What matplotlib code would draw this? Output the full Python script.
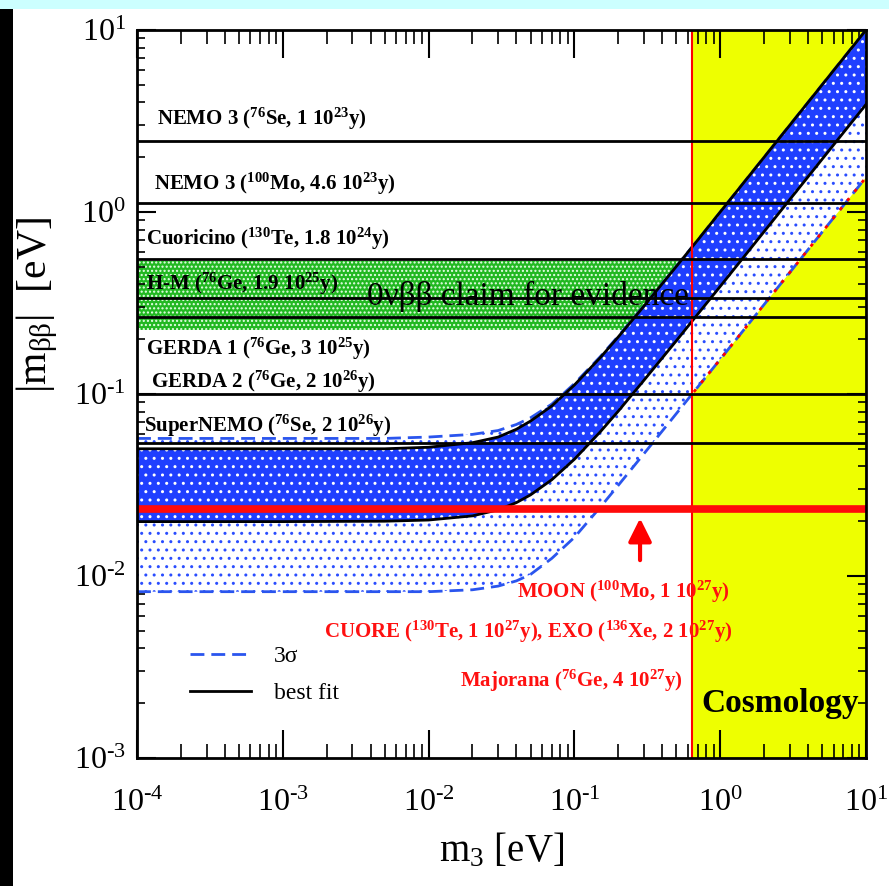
import matplotlib
matplotlib.use('Agg')
import matplotlib.pyplot as plt
from matplotlib.patches import Rectangle
from matplotlib.ticker import FuncFormatter
import numpy as np

plt.rcParams['font.family'] = ['Liberation Serif', 'DejaVu Serif']
plt.rcParams['mathtext.fontset'] = 'custom'
plt.rcParams['mathtext.rm'] = 'Liberation Serif'
plt.rcParams['mathtext.it'] = 'Liberation Serif:italic'
plt.rcParams['mathtext.bf'] = 'Liberation Serif:bold'
plt.rcParams['hatch.linewidth'] = 1.0

# lightest neutrino mass m3 [eV] and |m_bb| bounds (inverted hierarchy)
m3 = [1e-4, 1e-3, 5e-3, 1e-2, 2e-2, 3e-2, 4e-2, 5e-2, 7e-2, 0.1, 0.15, 0.2, 0.3, 0.5, 0.7, 1.0, 2.0, 5.0, 10.0]
best_hi = [0.050, 0.050, 0.050, 0.051, 0.054, 0.058, 0.064, 0.071, 0.086, 0.112, 0.158, 0.206, 0.304, 0.502, 0.70, 1.0, 2.0, 5.0, 10.0]
best_lo = [0.0199, 0.0199, 0.0200, 0.0203, 0.0214, 0.0231, 0.0253, 0.0279, 0.0338, 0.0438, 0.0618, 0.0805, 0.119, 0.196, 0.274, 0.39, 0.78, 1.95, 3.9]
s3_hi = [0.057, 0.057, 0.057, 0.058, 0.060, 0.063, 0.068, 0.074, 0.088, 0.114, 0.160, 0.208, 0.305, 0.503, 0.70, 1.0, 2.0, 5.0, 10.0]
s3_lo = [0.0082, 0.0082, 0.0082, 0.0082, 0.0084, 0.0088, 0.0094, 0.0102, 0.0125, 0.0163, 0.0238, 0.0315, 0.047, 0.078, 0.109, 0.155, 0.31, 0.775, 1.55]

# experimental sensitivities [eV]
exp_limits = [2.45, 1.12, 0.552, 0.337, 0.266, 0.100, 0.0537]
exp_labels = [
    r'NEMO 3 ($^{\mathbf{76}}$Se, 1 10$^{\mathbf{23}}$y)',
    r'NEMO 3 ($^{\mathbf{100}}$Mo, 4.6 10$^{\mathbf{23}}$y)',
    r'Cuoricino ($^{\mathbf{130}}$Te, 1.8 10$^{\mathbf{24}}$y)',
    r'H-M ($^{\mathbf{76}}$Ge, 1.9 10$^{\mathbf{25}}$y)',
    r'GERDA 1 ($^{\mathbf{76}}$Ge, 3 10$^{\mathbf{25}}$y)',
    r'GERDA 2 ($^{\mathbf{76}}$Ge, 2 10$^{\mathbf{26}}$y)',
    r'SuperNEMO ($^{\mathbf{76}}$Se, 2 10$^{\mathbf{26}}$y)',
]
hm_band = [0.225, 0.535]
next_gen_limit = 0.0233
next_gen_labels = [
    r'MOON ($^{\mathbf{100}}$Mo, 1 10$^{\mathbf{27}}$y)',
    r'CUORE ($^{\mathbf{130}}$Te, 1 10$^{\mathbf{27}}$y), EXO ($^{\mathbf{136}}$Xe, 2 10$^{\mathbf{27}}$y)',
    r'Majorana ($^{\mathbf{76}}$Ge, 4 10$^{\mathbf{27}}$y)',
]
cosmo_bound = 0.64


def pow10(v, pos):
    e = int(round(np.log10(v)))
    s = r'\text{-}%d' % -e if e < 0 else '%d' % e
    return r'$\mathdefault{10^{%s}}$' % s


fig = plt.figure(figsize=(8.89, 8.86), dpi=100)
fig.add_artist(Rectangle((0, 1 - 9 / 886), 1, 9 / 886, transform=fig.transFigure, color='#ccffff', lw=0))
fig.add_artist(Rectangle((0, 0), 13 / 889, 1 - 9 / 886, transform=fig.transFigure, color='black', lw=0))

ax = fig.add_axes([137 / 889, 1 - 758 / 886, 729 / 889, 728 / 886])
ax.set_xscale('log')
ax.set_yscale('log')
ax.set_xlim(1e-4, 10)
ax.set_ylim(1e-3, 10)
ax.xaxis.set_major_formatter(FuncFormatter(pow10))
ax.yaxis.set_major_formatter(FuncFormatter(pow10))

# cosmology excluded region
yellow = ax.axvspan(cosmo_bound, 10, facecolor='#eeff00', lw=0, zorder=1.5)
ax.axvline(cosmo_bound, color='red', lw=1.5, zorder=5)

# Heidelberg-Moscow claim
ax.axhspan(hm_band[0], hm_band[1], facecolor='#22b822', edgecolor='#e8ffe8', hatch='....', lw=0, zorder=1)

# 3 sigma and best fit regions
ax.fill_between(m3, s3_lo, s3_hi, facecolor='white', edgecolor='#2a4dff', hatch='..', lw=0, zorder=2)
ax.fill_between(m3, best_lo, best_hi, facecolor='#1f3fff', edgecolor='white', hatch='..', lw=0, zorder=3)

dash, = ax.plot(m3, s3_hi, color='#2a55ee', ls=(0, (5, 2.5)), lw=2, zorder=3.5)
ax.plot(m3, s3_lo, color='#2a55ee', ls=(0, (5, 2.5)), lw=2, zorder=3.5)
red_part, = ax.plot(m3, s3_lo, color='red', ls=(0, (1.2, 3)), lw=2, zorder=3.6)
red_part.set_clip_path(yellow)
best, = ax.plot(m3, best_hi, color='black', lw=2, zorder=4)
ax.plot(m3, best_lo, color='black', lw=2, zorder=4)

for v in exp_limits:
    ax.axhline(v, color='black', lw=2, zorder=5)
ax.axhline(next_gen_limit, color='#ff0a0a', lw=5.5, zorder=5)

# labels of the current/near experiments
lab_pos = [(1.37e-4, 3.0), (1.3e-4, 1.32), (1.15e-4, 0.659), (1.16e-4, 0.372),
           (1.16e-4, 0.164), (1.25e-4, 0.108), (1.12e-4, 0.0618)]
for (x, y), t in zip(lab_pos, exp_labels):
    ax.text(x, y, t, fontsize=15, fontweight='bold', va='baseline', ha='left', zorder=6)

ax.text(3.79e-3, 0.308, '0νββ claim for evidence', fontsize=24, va='baseline', ha='left', zorder=6)

red_pos = [(1.17, 0.00757), (1.22, 0.00456), (0.556, 0.00245)]
for (x, y), t in zip(red_pos, next_gen_labels):
    ax.text(x, y, t, fontsize=15, fontweight='bold', color='#ff1010', va='baseline', ha='right', zorder=6)

ax.annotate('', xy=(0.282, 0.0215), xytext=(0.282, 0.0118),
            arrowprops=dict(arrowstyle='-|>,head_length=0.7,head_width=0.35', color='red', lw=3, mutation_scale=20),
            zorder=6)

ax.text(2.57, 0.00179, 'Cosmology', fontsize=24, fontweight='bold', va='baseline', ha='center', zorder=6)

ax.legend([dash, best], ['3σ', 'best fit'], loc='center left', bbox_to_anchor=(0.0727, 0.114),
          frameon=False, fontsize=17, handlelength=2.6, handletextpad=0.95, labelspacing=0.65,
          borderpad=0, borderaxespad=0)

for s in ax.spines.values():
    s.set_linewidth(2)
    s.set_zorder(7)
ax.tick_params(which='both', direction='in', top=True, right=True, labelsize=23)
ax.tick_params(axis='x', which='major', length=20, width=1.5, pad=22)
ax.tick_params(axis='x', which='minor', length=10, width=1.2)
ax.tick_params(axis='y', which='major', length=14, width=1.5, pad=8)
ax.tick_params(axis='y', which='minor', length=6, width=1.2)

ax.set_xlabel(r'm$_3$ [eV]', fontsize=28, labelpad=10)
ax.set_ylabel(r'|m$_{\mathrm{\beta\beta}}$|  [eV]', fontsize=30)
ax.yaxis.set_label_coords(-0.105, 0.622)

fig.savefig('out.png', dpi=100)
